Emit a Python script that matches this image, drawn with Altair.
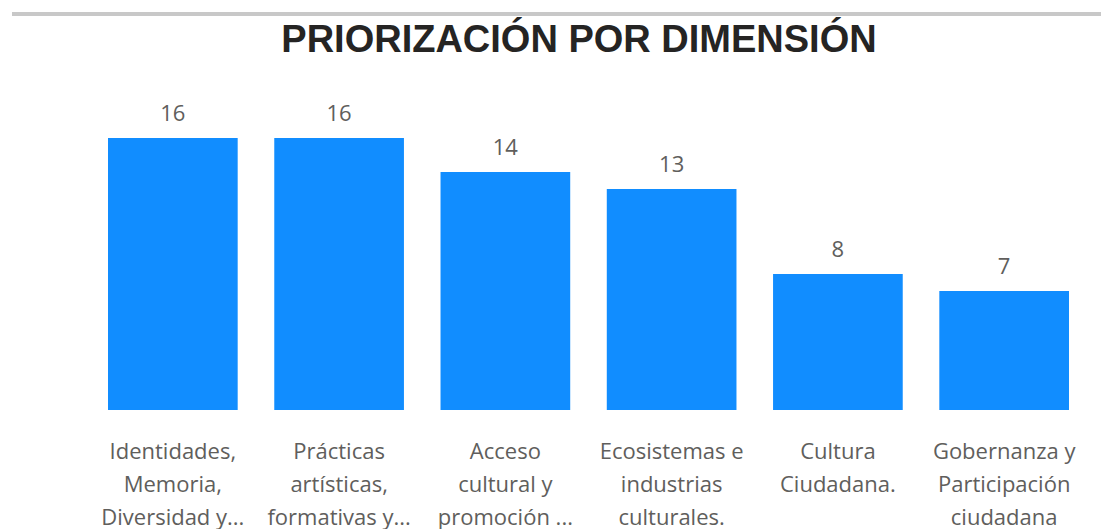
import altair as alt
import pandas as pd

categories = [
    "Identidades,|Memoria,|Diversidad y...",
    "Prácticas|artísticas,|formativas y...",
    "Acceso|cultural y|promoción ...",
    "Ecosistemas e|industrias|culturales.",
    "Cultura|Ciudadana.",
    "Gobernanza y|Participación|ciudadana",
]
values = [16, 16, 14, 13, 8, 7]
title_text = "PRIORIZACIÓN POR DIMENSIÓN"

df = pd.DataFrame({"cat": categories, "val": values})

label_font = "Segoe UI, Open Sans, DejaVu Sans"

x = alt.X(
    "cat:N",
    sort=categories,
    scale=alt.Scale(paddingInner=0.22, paddingOuter=0),
    axis=alt.Axis(
        title=None,
        labelAngle=0,
        labelExpr="split(datum.label, '|')",
        labelFont=label_font,
        labelFontSize=22,
        labelColor="#605E5C",
        labelLineHeight=33,
        labelPadding=31,
        labelBaseline="top",
        domain=False,
        ticks=False,
        labelLimit=400,
    ),
)
y = alt.Y("val:Q", scale=alt.Scale(domain=[0, 16], nice=False), axis=None)

bars = alt.Chart(df).mark_bar(color="#118DFF").encode(x=x, y=y)
texts = alt.Chart(df).mark_text(
    baseline="bottom", dy=-12, font=label_font, fontSize=22, color="#605E5C"
).encode(x=x, y=y, text="val:Q")

topline = alt.Chart(df).mark_rule(color="#C8C8C8", strokeWidth=3).encode(
    x=alt.value(-96), x2=alt.value(1001), y=alt.value(-124)
)

title_df = pd.DataFrame({"t": [title_text]})
title_mark = alt.Chart(title_df).mark_text(
    font="Liberation Sans Narrow, Arial Narrow, Liberation Sans",
    fontSize=38,
    fontWeight="bold",
    color="#252423",
    align="center",
    baseline="alphabetic",
).encode(x=alt.value(471), y=alt.value(-86), text="t:N")

chart = (
    alt.layer(topline, bars, texts, title_mark)
    .properties(
        width=961,
        height=272,
        padding={"left": 100, "top": 130, "right": 32, "bottom": 119},
        autosize=alt.AutoSizeParams(type="none"),
    )
    .configure_view(stroke=None)
)

chart.save("out.html", embed_options={"renderer": "svg", "actions": False})
